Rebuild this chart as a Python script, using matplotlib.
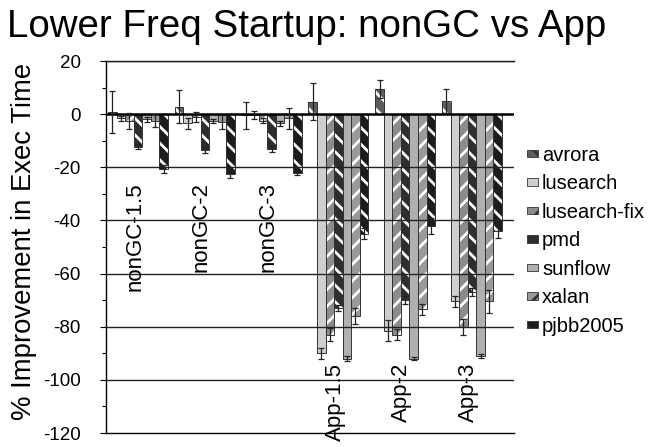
import numpy as np
import matplotlib
matplotlib.use('Agg')
import matplotlib.pyplot as plt

plt.rcParams['font.family'] = ['Liberation Sans', 'DejaVu Sans']
plt.rcParams['hatch.linewidth'] = 2.0
plt.rcParams['axes.unicode_minus'] = False

# Данные
configs = ['nonGC-1.5', 'nonGC-2', 'nonGC-3', 'App-1.5', 'App-2', 'App-3']
series = ['avrora', 'lusearch', 'lusearch-fix', 'pmd', 'sunflow', 'xalan', 'pjbb2005']

avrora = [0.8, 2.8, -0.5, 4.7, 9.5, 5.0]
avrora_err = [8.0, 6.3, 5.0, 7.0, 3.5, 4.5]
lusearch = [-1.6, -3.5, -0.5, -90.0, -81.5, -70.5]
lusearch_err = [1.0, 2.0, 1.5, 2.0, 4.0, 2.0]
lusearch_fix = [-2.5, -1.0, -2.5, -83.0, -83.0, -80.0]
lusearch_fix_err = [3.0, 1.8, 1.0, 2.5, 2.0, 3.0]
pmd = [-12.3, -13.5, -13.2, -73.0, -70.0, -67.0]
pmd_err = [1.0, 1.2, 1.2, 1.0, 1.5, 1.5]
sunflow = [-2.0, -2.6, -3.5, -92.0, -92.0, -91.0]
sunflow_err = [1.0, 0.8, 0.8, 1.0, 0.5, 0.6]
xalan = [-2.5, -3.0, -1.5, -76.0, -73.5, -70.5]
xalan_err = [2.5, 2.5, 4.0, 3.0, 2.0, 4.5]
pjbb2005 = [-20.8, -22.6, -22.0, -45.0, -42.0, -44.0]
pjbb2005_err = [1.5, 1.5, 1.0, 2.0, 3.0, 2.5]

values = [avrora, lusearch, lusearch_fix, pmd, sunflow, xalan, pjbb2005]
errors = [avrora_err, lusearch_err, lusearch_fix_err, pmd_err, sunflow_err, xalan_err, pjbb2005_err]

# Стили серий
faces = ['#5e5e5e', '#cfcfcf', '#8c8c8c', '#2e2e2e', '#b0b0b0', '#9a9a9a', '#1c1c1c']
hatches = ['\\\\', None, '//', '\\\\', None, '//', '\\\\']

fig = plt.figure(figsize=(6.62, 4.47), dpi=100)
ax = fig.add_axes([106 / 662, 1 - 433 / 447, (514 - 106) / 662, (433 - 61) / 447])

x = np.arange(len(configs))
w = 0.128
for i, name in enumerate(series):
    pos = x + (i - 3) * w
    ax.bar(pos, values[i], w, color=faces[i], hatch=hatches[i], edgecolor='white', linewidth=0, zorder=2)
    ax.bar(pos, values[i], w, facecolor='none', edgecolor='#333333', linewidth=0.7, zorder=2.5)
    ax.errorbar(pos, values[i], yerr=errors[i], fmt='none', ecolor='#222222', elinewidth=0.9,
                capsize=2.5, capthick=0.9, zorder=4)

# Линии сетки поверх столбцов
for yv in range(-100, 21, 20):
    ax.axhline(yv, color='black' if yv == 0 else '#222222', lw=1.8 if yv == 0 else 1.0, zorder=3)

ax.set_ylim(-120, 20)
ax.set_xlim(-0.479, 5.629)
ax.set_yticks(range(-120, 21, 20))
ax.set_yticks(range(-110, 20, 20), minor=True)
ax.set_xticks([])
ax.tick_params(axis='y', which='major', length=4.3, width=0.8, pad=14, labelsize=13.5)
ax.tick_params(axis='y', which='minor', length=3, width=0.8)
ax.spines['right'].set_visible(False)
for s in ['left', 'bottom', 'top']:
    ax.spines[s].set_linewidth(1.0)

# Подписи групп
label_top = [-25.5, -25.5, -25.5, -93.7, -93.7, -93.7]
for i, c in enumerate(configs):
    ax.text(x[i] - 0.05, label_top[i], c, rotation=90, ha='center', va='top', fontsize=16, zorder=5)

fig.text(7 / 662, 1 - 37 / 447, 'Lower Freq Startup: nonGC vs App', fontsize=27.7, ha='left', va='baseline')
fig.text(24 / 662, 1 - 241 / 447, '% Improvement in Exec Time', fontsize=19.8, rotation=90,
         ha='center', va='center')

handles = []
for i in range(len(series)):
    handles.append(plt.Rectangle((0, 0), 1, 1, facecolor=faces[i], hatch=hatches[i],
                                 edgecolor='#333333', linewidth=0.6))
fig.legend(handles, series, loc='upper left', bbox_to_anchor=(527 / 662, 1 - 146 / 447),
           frameon=False, fontsize=14.5, handlelength=0.55, handleheight=0.2,
           handletextpad=0.2, labelspacing=0.47, borderpad=0, borderaxespad=0)

fig.savefig('out.png', dpi=100)
